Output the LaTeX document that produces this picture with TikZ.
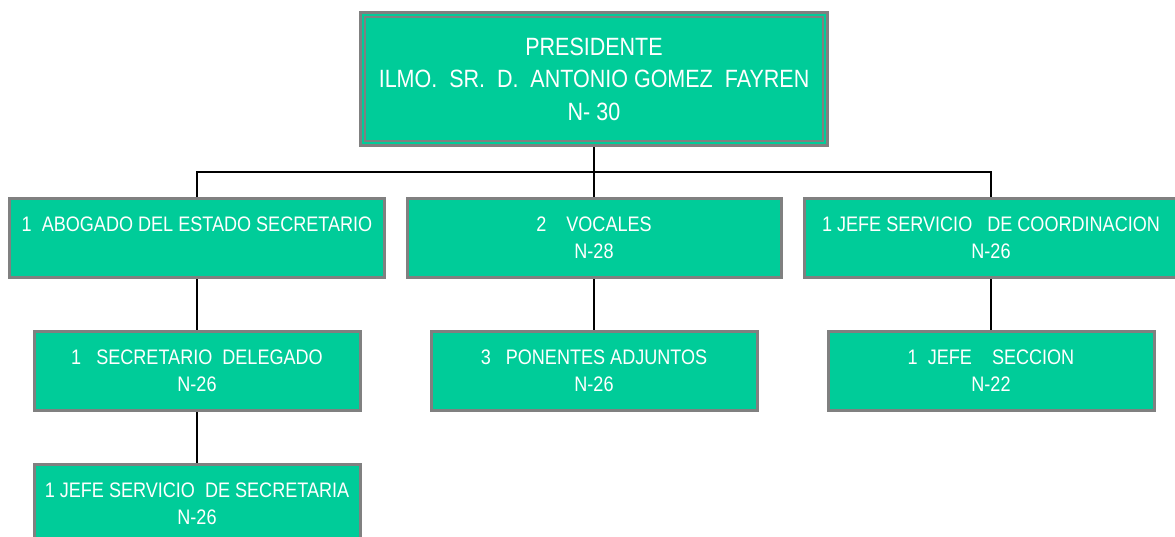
\documentclass[tikz,border=0pt]{standalone}
\usepackage{fontspec}
\setmainfont[FakeStretch=0.86]{Liberation Sans}
\usetikzlibrary{positioning}
\definecolor{boxfill}{RGB}{0,204,153}
\definecolor{boxedge}{RGB}{128,128,128}
\tikzset{
  orgbox/.style={draw=boxedge, fill=boxfill, line width=3pt, text=white,
    align=center, inner sep=0pt, minimum width=326pt, minimum height=79pt,
    font=\fontsize{21}{27}\selectfont},
  widebox/.style={orgbox, minimum width=375pt},
  topbox/.style={orgbox, minimum width=467pt, minimum height=133pt,
    font=\fontsize{25}{32.5}\selectfont},
  linkln/.style={line width=1.6pt, black},
}

\begin{document}
\begin{tikzpicture}[x=1pt, y=-1pt]
    \useasboundingbox (0,0) rectangle (1175,536);
    \clip (0,0) rectangle (1175,536);
    % president
    \node[topbox] (pres) at (594,79)
      {PRESIDENTE\\ILMO.\ \ SR.\ \ D.\ \ ANTONIO GOMEZ\ \ FAYREN\\N- 30};
    \draw[boxedge, line width=1.4pt]
      ([xshift=6pt,yshift=-6pt]pres.north west) rectangle
      ([xshift=-6pt,yshift=6pt]pres.south east);
    % second level
    \node[widebox] (abog) at (197,238)
      {1\ \ ABOGADO DEL ESTADO SECRETARIO\\\phantom{N-26}};
    \node[widebox, minimum width=374pt] (vocal) at (594,238)
      {2\ \ \ \ VOCALES\\N-28};
    \node[widebox, minimum width=374pt] (jefec) at (991,238)
      {1 JEFE SERVICIO\ \ \ DE COORDINACION\\N-26};
    % third level
    \node[orgbox] (secdel) at (197,371)
      {1\ \ \ SECRETARIO\ \ DELEGADO\\N-26};
    \node[orgbox] (pon) at (594,371)
      {3\ \ \ PONENTES ADJUNTOS\\N-26};
    \node[orgbox] (secc) at (991,371)
      {1\ \ JEFE\ \ \ \ SECCION\\N-22};
    % fourth level
    \node[orgbox] (jsec) at (197,504)
      {1 JEFE SERVICIO\ \ DE SECRETARIA\\N-26};
    % connectors
    \coordinate (bus) at (594,172);
    \draw[linkln] (pres.south) -- (vocal.north);
    \draw[linkln] (abog.north) |- (bus) -| (jefec.north);
    \draw[linkln] (abog.south) -- (secdel.north);
    \draw[linkln] (vocal.south) -- (pon.north);
    \draw[linkln] (jefec.south) -- (secc.north);
    \draw[linkln] (secdel.south) -- (jsec.north);
  \end{tikzpicture}
\end{document}
